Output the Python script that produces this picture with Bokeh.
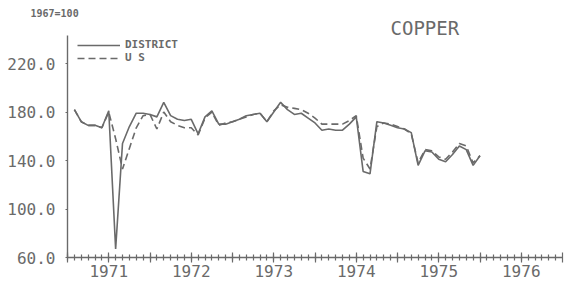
from bokeh.plotting import figure
from bokeh.models import FixedTicker, Range1d, Legend, LegendItem, NumeralTickFormatter, Title, Label
from bokeh.embed import file_html
from bokeh.resources import INLINE

# ---- data (index 1967=100), monthly Jan 1971 .. Dec 1975 ----
years = [1971, 1972, 1973, 1974, 1975]
month_numbers = list(range(1, 13))

district = [
    182, 172, 169, 169, 167, 181, 67, 154, 168, 179, 179, 178,   # 1971
    176, 188, 177, 174, 173, 174, 162, 176, 181, 170, 170, 172,  # 1972
    174, 177, 178, 179, 172, 180, 188, 182, 178, 179, 175, 171,  # 1973
    165, 166, 165, 165, 170, 176, 131, 129, 172, 171, 169, 167,  # 1974
    166, 163, 136, 148, 147, 141, 139, 145, 152, 149, 136, 144,  # 1975
]
us = [
    182, 172, 169, 169, 167, 180, 158, 133, 150, 167, 177, 178,  # 1971
    166, 180, 172, 169, 167, 167, 161, 175, 180, 169, 171, 172,  # 1972
    174, 176, 178, 179, 172, 181, 186, 184, 183, 182, 179, 175,  # 1973
    170, 170, 170, 170, 173, 177, 142, 133, 168, 171, 170, 168,  # 1974
    166, 162, 138, 149, 148, 143, 141, 147, 154, 152, 138, 144,  # 1975
]

y_ticks = [60, 100, 140, 180, 220]
axis_years = [1971, 1972, 1973, 1974, 1975, 1976]
year_labels = ["1971", "1972", "1973", "1974", "1975", "1976"]

x = [yr + m / 12 for yr in years for m in month_numbers]

GRAY = "#6a6a6a"
MONO = "DejaVu Sans Mono"

p = figure(width=565, height=284, output_backend="svg", toolbar_location=None,
           x_range=Range1d(1971, 1977), y_range=Range1d(60, 255.5),
           min_border_left=67, min_border_right=3, min_border_top=20, min_border_bottom=27)
p.grid.visible = False
p.outline_line_color = None
p.background_fill_color = "white"
p.border_fill_color = "white"

r1 = p.line(x, district, line_color=GRAY, line_width=1.6)
r2 = p.line(x, us, line_color=GRAY, line_width=1.6, line_dash="7 4")

# x axis
majors = [float(y) for y in axis_years] + [float(axis_years[-1] + 1)] + [y + 0.5 for y in axis_years]
minors = [y + m / 12 for y in axis_years for m in range(0, 12)]
p.xaxis.ticker = FixedTicker(ticks=sorted(majors), minor_ticks=minors)
overrides = {}
for y, lab in zip(axis_years, year_labels):
    overrides[float(y)] = ""
    overrides[y + 0.5] = lab
overrides[float(axis_years[-1] + 1)] = ""
p.xaxis.major_label_overrides = overrides

# y axis
p.yaxis.ticker = FixedTicker(ticks=y_ticks, minor_ticks=[])
p.yaxis.formatter = NumeralTickFormatter(format="0.0")
p.yaxis.bounds = (60, 243.1)

for ax in (p.xaxis[0], p.yaxis[0]):
    ax.axis_line_color = GRAY
    ax.axis_line_width = 1.4
    ax.major_tick_line_color = GRAY
    ax.major_tick_line_width = 1.2
    ax.minor_tick_line_color = GRAY
    ax.minor_tick_line_width = 1.2
    ax.major_label_text_font = MONO
    ax.major_label_text_font_size = "16px"
    ax.major_label_text_color = GRAY

p.xaxis.major_tick_in = 5
p.xaxis.major_tick_out = 5
p.xaxis.minor_tick_in = 3
p.xaxis.minor_tick_out = 3
p.xaxis.major_label_standoff = 2

p.yaxis.major_tick_in = 0
p.yaxis.major_tick_out = 2
p.yaxis.major_label_standoff = 10

# legend
legend = Legend(items=[LegendItem(label="DISTRICT", renderers=[r1]),
                       LegendItem(label="U S", renderers=[r2])],
                location=(10, 193), padding=0, margin=0, spacing=0,
                glyph_width=43, glyph_height=12, label_height=12, label_standoff=5,
                border_line_alpha=0, background_fill_alpha=0,
                label_text_font=MONO, label_text_font_size="11px",
                label_text_font_style="bold", label_text_color=GRAY)
p.add_layout(legend)

p.add_layout(Label(x=323, y=230, x_units="screen", y_units="screen", text="COPPER",
                   text_font=MONO, text_font_size="19px",
                   text_color=GRAY, text_baseline="middle"))
p.add_layout(Title(text="1967=100", align="left", offset=-37, standoff=3,
                   text_font=MONO, text_font_size="10px", text_font_style="bold",
                   text_color=GRAY), "above")

open("out.html", "w").write(file_html(p, INLINE))
